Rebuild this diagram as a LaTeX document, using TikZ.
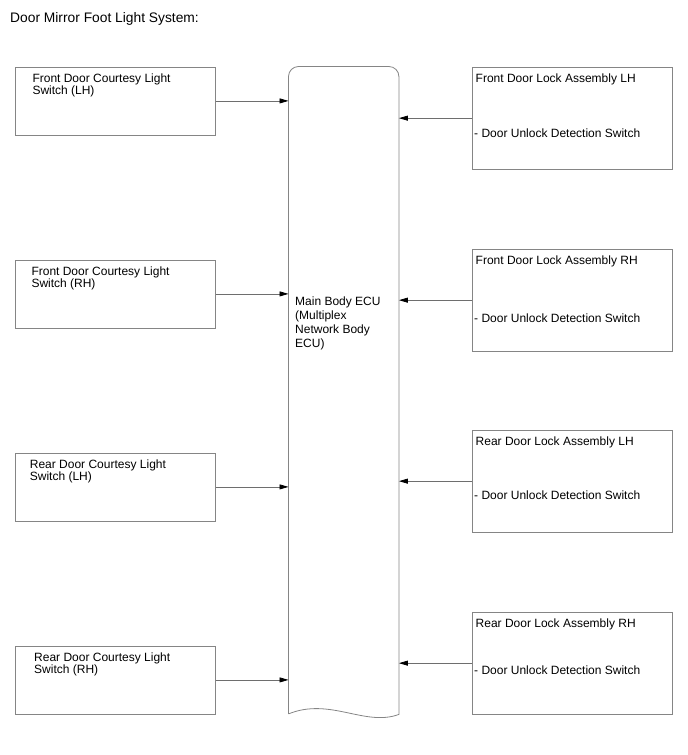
\documentclass[tikz,border=0pt]{standalone}
\usepackage{fontspec}
\setmainfont{Liberation Sans}
\usetikzlibrary{arrows.meta,positioning,calc}
\definecolor{linegray}{HTML}{858585}
\definecolor{wiregray}{HTML}{6E6E6E}

\begin{document}
\begin{tikzpicture}[x=1pt,y=-1pt,
  swbox/.style={draw=linegray,line width=0.8pt,minimum width=200pt,minimum height=68pt,anchor=north west,inner sep=0pt},
  lockbox/.style={draw=linegray,line width=0.8pt,minimum width=200pt,minimum height=102.5pt,anchor=north west,inner sep=0pt},
  txt/.style={font=\fontsize{12}{12.5}\selectfont,align=left,anchor=north west,inner sep=0pt},
  wire/.style={-{Triangle[length=9pt,width=5pt,color=black]},draw=wiregray,line width=0.8pt}]

\useasboundingbox (0,0) rectangle (688,755);

% ---- title ----
\node[anchor=base west,inner sep=0pt,font=\fontsize{13.8}{16}\selectfont] (title) at (10,22.7) {Door Mirror Foot Light System:};

% ---- main body ecu (rounded top, wavy bottom) ----
\node[minimum width=110pt,minimum height=647pt,anchor=north west,inner sep=0pt] (ecu) at (288.5,66.5) {};
\draw[linegray,line width=0.8pt] (ecu.south west) [rounded corners=10pt] -- (ecu.north west) -- (ecu.north east) [sharp corners] -- ($(ecu.south east)+(0,0.5)$)
  .. controls (365,727) and (330,697) .. (ecu.south west);
\node[txt,font=\fontsize{12}{14}\selectfont] (ecutxt) at (295,296.7) {Main Body ECU\\(Multiplex\\Network Body\\ECU)};

% ---- courtesy light switches (left) ----
\foreach \n/\yy/\xx/\txt in {1/66.5/32.3/{Front Door Courtesy Light\\Switch (LH)},
                              2/259.5/31.3/{Front Door Courtesy Light\\Switch (RH)},
                              3/452.5/29.7/{Rear Door Courtesy Light\\Switch (LH)},
                              4/645.5/34/{Rear Door Courtesy Light\\Switch (RH)}}{
  \node[swbox] (sw\n) at (15,\yy) {};
  \node[txt] (swtxt\n) at (\xx,\yy+7) {\txt};
  \draw[wire] (sw\n.east) -- (sw\n.east -| ecu.west);
}

% ---- door lock assemblies (right) ----
\foreach \n/\yy/\low/\nm in {1/66.5/128.7/Front Door Lock Assembly LH,
                              2/248.5/313.7/Front Door Lock Assembly RH,
                              3/429.5/490.7/Rear Door Lock Assembly LH,
                              4/611.5/665.7/Rear Door Lock Assembly RH}{
  \node[lockbox] (lock\n) at (472,\yy) {};
  \node[txt] (locktxt\n) at (475.5,\yy+7) {\nm};
  \node[txt] (lockpart\n) at (474,\low) {- Door Unlock Detection Switch};
  \draw[wire] (lock\n.west) -- (lock\n.west -| ecu.east);
}

\end{tikzpicture}
\end{document}
